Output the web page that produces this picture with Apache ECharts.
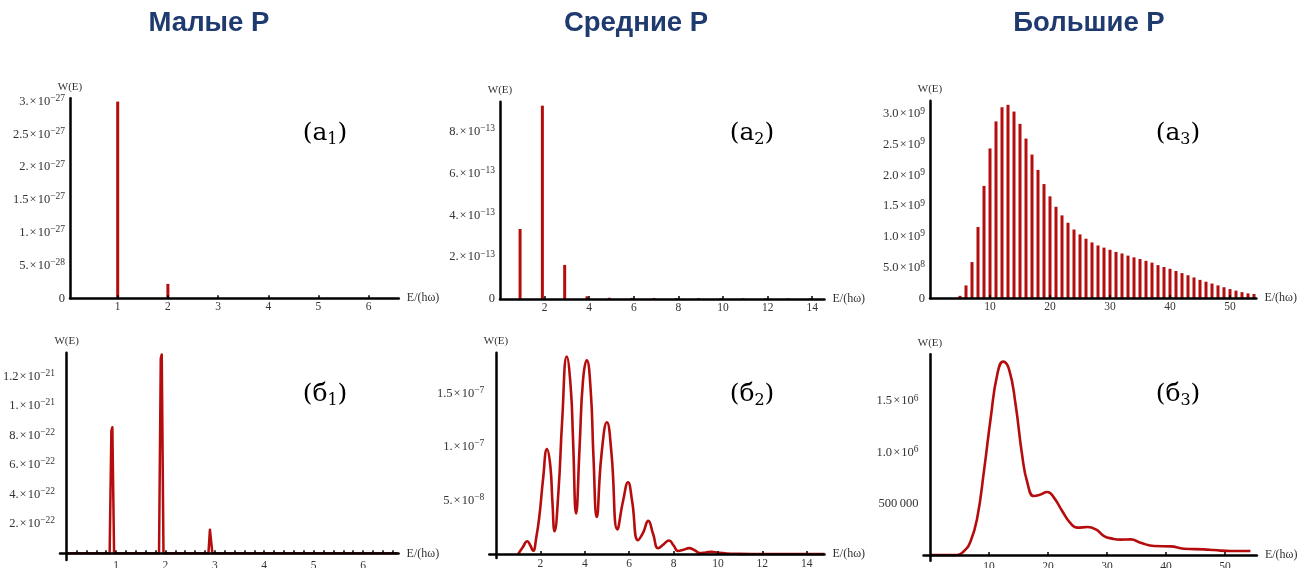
<!DOCTYPE html>
<html><head><meta charset="utf-8">
<script src="https://cdn.jsdelivr.net/npm/echarts@6/dist/echarts.min.js"></script>
<style>html,body{margin:0;padding:0;background:#fff}#c{width:1310px;height:568px}</style>
</head><body><div id="c"></div>
<script>
// ---------- DATA ----------
const titles = ['Малые P', 'Средние P', 'Большие P'];
const panelLabels = [['а', '1'], ['а', '2'], ['а', '3'], ['б', '1'], ['б', '2'], ['б', '3']];

// (a1) line spectrum, small P
const a1E = [1, 2];
const a1W = [3.0e-27, 2.2e-28];
const a1XTicks = [1, 2, 3, 4, 5, 6];
const a1YTicks = [0, 5e-28, 1e-27, 1.5e-27, 2e-27, 2.5e-27, 3e-27];
const a1YLabels = ['0', '5.×10^−28', '1.×10^−27', '1.5×10^−27', '2.×10^−27', '2.5×10^−27', '3.×10^−27'];

// (a2) line spectrum, medium P
const a2E = [0.9, 1.9, 2.9, 3.9, 4.9, 5.9, 6.9, 7.9, 8.9, 9.9, 10.9, 11.9, 12.9, 13.9];
const a2W = [3.35e-13, 9.25e-13, 1.63e-13, 0.13e-13, 0.06e-13, 0.05e-13, 0.05e-13, 0.04e-13, 0.04e-13, 0.04e-13, 0.03e-13, 0.03e-13, 0.03e-13, 0.03e-13];
const a2XTicks = [2, 4, 6, 8, 10, 12, 14];
const a2YTicks = [0, 2e-13, 4e-13, 6e-13, 8e-13];
const a2YLabels = ['0', '2.×10^−13', '4.×10^−13', '6.×10^−13', '8.×10^−13'];

// (a3) line spectrum, large P
const a3E = [5, 6, 7, 8, 9, 10, 11, 12, 13, 14, 15, 16, 17, 18, 19, 20, 21, 22, 23, 24, 25, 26, 27, 28, 29,
             30, 31, 32, 33, 34, 35, 36, 37, 38, 39, 40, 41, 42, 43, 44, 45, 46, 47, 48, 49, 50, 51, 52, 53, 54];
const a3W = [0.04e9, 0.21e9, 0.59e9, 1.16e9, 1.83e9, 2.44e9, 2.88e9, 3.11e9, 3.15e9, 3.04e9, 2.84e9, 2.60e9, 2.34e9,
             2.09e9, 1.86e9, 1.66e9, 1.49e9, 1.35e9, 1.23e9, 1.12e9, 1.04e9, 0.97e9, 0.91e9, 0.86e9, 0.825e9,
             0.79e9, 0.755e9, 0.73e9, 0.695e9, 0.667e9, 0.64e9, 0.61e9, 0.58e9, 0.54e9, 0.51e9, 0.48e9, 0.445e9,
             0.41e9, 0.375e9, 0.34e9, 0.30e9, 0.27e9, 0.24e9, 0.21e9, 0.18e9, 0.15e9, 0.125e9, 0.10e9, 0.08e9, 0.07e9];
const a3XTicks = [10, 20, 30, 40, 50];
const a3YTicks = [0, 5e8, 1e9, 1.5e9, 2e9, 2.5e9, 3e9];
const a3YLabels = ['0', '5.0×10^8', '1.0×10^9', '1.5×10^9', '2.0×10^9', '2.5×10^9', '3.0×10^9'];

// (б1) broadened spectrum, small P  [E, W]
const b1Curve = [[0, 0], [0.87, 0], [0.905, 8.3e-22], [0.925, 8.55e-22], [0.96, 0], [1.87, 0], [1.905, 1.32e-21],
                 [1.925, 1.348e-21], [1.96, 0], [2.87, 0], [2.9, 1.6e-22], [2.92, 1.66e-22], [2.95, 0],
                 [3.91, 0], [3.94, 6e-24], [3.97, 0], [6.7, 0]];
const b1XTicks = [1, 2, 3, 4, 5, 6];
const b1YTicks = [2e-22, 4e-22, 6e-22, 8e-22, 1e-21, 1.2e-21];
const b1YLabels = ['2.×10^−22', '4.×10^−22', '6.×10^−22', '8.×10^−22', '1.×10^−21', '1.2×10^−21'];

// (б2) broadened spectrum, medium P  [E, W]
const b2Curve = [[1.0, 0], [1.2, 0.6e-8], [1.41, 1.2e-8], [1.55, 0.8e-8], [1.67, 0.3e-8], [1.82, 1.6e-8],
                 [1.97, 3.8e-8], [2.12, 6.95e-8], [2.30, 9.8e-8], [2.45, 8.2e-8], [2.54, 5.0e-8], [2.64, 2.13e-8],
                 [2.82, 6.0e-8], [2.98, 12.35e-8], [3.19, 18.45e-8], [3.37, 15.5e-8], [3.47, 10.8e-8],
                 [3.61, 3.78e-8], [3.77, 10.1e-8], [3.92, 16.2e-8], [4.09, 18.1e-8], [4.27, 15.2e-8],
                 [4.39, 9.2e-8], [4.54, 3.46e-8], [4.75, 9.2e-8], [5.0, 12.3e-8], [5.2, 9.5e-8], [5.47, 2.3e-8],
                 [5.73, 5.0e-8], [5.95, 6.7e-8], [6.13, 5.0e-8], [6.4, 1.3e-8], [6.63, 2.0e-8], [6.86, 3.1e-8],
                 [7.08, 1.87e-8], [7.31, 0.54e-8], [7.55, 0.9e-8], [7.8, 1.27e-8], [8.0, 0.8e-8], [8.21, 0.29e-8],
                 [8.45, 0.4e-8], [8.7, 0.55e-8], [8.95, 0.35e-8], [9.19, 0.1e-8], [9.45, 0.15e-8], [9.71, 0.2e-8],
                 [10.0, 0.12e-8], [10.4, 0.05e-8], [10.8, 0.02e-8], [11.5, 0], [14.8, 0]];
const b2XTicks = [2, 4, 6, 8, 10, 12, 14];
const b2YTicks = [5e-8, 1e-7, 1.5e-7];
const b2YLabels = ['5.×10^−8', '1.×10^−7', '1.5×10^−7'];

// (б3) broadened spectrum, large P  [E, W]
const b3Curve = [[0, 0], [4.6, 0], [5.8, 40000], [6.9, 137000], [8.0, 360000], [9.15, 820000], [10.3, 1340000],
                 [11.4, 1760000], [12.4, 1885000], [13.4, 1810000], [14.5, 1470000], [15.6, 980000],
                 [16.5, 705000], [17.6, 575000], [18.5, 585000], [19.9, 614000], [21.0, 560000], [22.4, 430000],
                 [23.8, 310000], [25.0, 267000], [26.7, 273000], [28.1, 250000], [29.5, 185000], [30.9, 160000],
                 [32.3, 150000], [34.0, 153000], [35.7, 120000], [38.0, 88000], [40.8, 85000], [43.0, 62000],
                 [46.4, 55000], [48.1, 49000], [51.0, 39000], [54.3, 39000]];
const b3XTicks = [10, 20, 30, 40, 50];
const b3YTicks = [5e5, 1e6, 1.5e6];
const b3YLabels = ['500\u2009000', '1.0×10^6', '1.5×10^6'];

// ---------- STYLE / LAYOUT ----------
const RED = '#b50d0d';
const NAVY = '#1f3a6e';
const SERIF = 'Liberation Serif';
const TXT = '#333';

function sci(s) {
  const p = s.split('^');
  const m = p[0].replace('×', '\u200a×\u200a');
  return p.length > 1 ? '{m|' + m + '}{s|' + p[1] + '}' : '{m|' + m + '}';
}
const labRich = {
  m: {fontFamily: SERIF, fontSize: 12.5, color: TXT, lineHeight: 16},
  s: {fontFamily: SERIF, fontSize: 9.5, color: TXT, lineHeight: 9, verticalAlign: 'top'}
};

const panels = [
  {g: [70, 98.3, 328.8, 200], x: [0.05, 6.6], y: [0, 3.05e-27], xt: a1XTicks, yt: a1YTicks, yl: a1YLabels, lm: 3},
  {g: [500, 101.7, 324.5, 197.3], x: [0, 14.55], y: [0, 9.44e-13], xt: a2XTicks, yt: a2YTicks, yl: a2YLabels, lm: 3},
  {g: [930, 100.7, 326.4, 197.6], x: [0, 54.4], y: [0, 3.217e9], xt: a3XTicks, yt: a3YTicks, yl: a3YLabels, lm: 3},
  {g: [60, 352.7, 338.6, 207.3], x: [-0.135, 6.72], y: [-4.5e-23, 1.36e-21], xt: b1XTicks, yt: b1YTicks, yl: b1YLabels, minor: 0.2, lm: 0},
  {g: [489.3, 352.7, 335.2, 205.3], x: [-0.3, 14.8], y: [-3.7e-9, 1.88e-7], xt: b2XTicks, yt: b2YTicks, yl: b2YLabels, lm: 0},
  {g: [923.5, 354.3, 333.4, 206.4], x: [-1.1, 55.4], y: [-5.5e4, 1.956e6], xt: b3XTicks, yt: b3YTicks, yl: b3YLabels, lm: 0}
];

const grids = [], xAxes = [], yAxes = [];
panels.forEach((p, i) => {
  grids.push({left: p.g[0], top: p.g[1], width: p.g[2], height: p.g[3], outerBoundsMode: 'none', containLabel: false});
  let tickVals = p.xt;
  if (p.minor) {
    tickVals = [];
    for (let k = 1; k * p.minor <= p.x[1]; k++) tickVals.push(+(k * p.minor).toFixed(3));
  }
  xAxes.push({
    gridIndex: i, type: 'value', min: p.x[0], max: p.x[1], z: 3,
    name: 'E/(hω)', nameLocation: 'end', nameGap: 8,
    nameTextStyle: {fontFamily: SERIF, fontSize: 12, color: TXT},
    axisLine: {onZero: true, lineStyle: {color: '#000', width: 2.5}},
    axisTick: {show: true, inside: true, length: 3, customValues: tickVals, lineStyle: {color: '#000', width: 1.5}},
    axisLabel: {customValues: p.xt, fontFamily: SERIF, fontSize: 11.5, color: TXT, margin: p.lm},
    splitLine: {show: false}
  });
  yAxes.push({
    gridIndex: i, type: 'value', min: p.y[0], max: p.y[1], z: 3,
    name: 'W(E)', nameLocation: 'end', nameGap: 6,
    nameTextStyle: {fontFamily: SERIF, fontSize: 11, color: TXT, align: 'center'},
    axisLine: {onZero: true, lineStyle: {color: '#000', width: 2.5}},
    axisTick: {show: false},
    axisLabel: {
      customValues: p.yt, margin: 5, rich: labRich,
      formatter: (v) => {
        const span = p.y[1] - p.y[0];
        for (let k = 0; k < p.yt.length; k++) if (Math.abs(p.yt[k] - v) < span * 1e-6) return sci(p.yl[k]);
        return '';
      }
    },
    splitLine: {show: false}
  });
});

function pairs(E, W) { return E.map((e, k) => [e, W[k]]); }

const series = [
  {type: 'bar', xAxisIndex: 0, yAxisIndex: 0, data: pairs(a1E, a1W), barWidth: 3, itemStyle: {color: RED}, z: 1},
  {type: 'bar', xAxisIndex: 1, yAxisIndex: 1, data: pairs(a2E, a2W), barWidth: 3, itemStyle: {color: RED}, z: 1},
  {type: 'bar', xAxisIndex: 2, yAxisIndex: 2, data: pairs(a3E, a3W), barWidth: 3, itemStyle: {color: RED}, z: 1},
  {type: 'line', xAxisIndex: 3, yAxisIndex: 3, data: b1Curve, symbol: 'none', smooth: false,
   lineStyle: {color: RED, width: 2.5, join: 'round'}, z: 1},
  {type: 'line', xAxisIndex: 4, yAxisIndex: 4, data: b2Curve, symbol: 'none', smooth: 0.5,
   lineStyle: {color: RED, width: 2.6}, z: 1},
  {type: 'line', xAxisIndex: 5, yAxisIndex: 5, data: b3Curve, symbol: 'none', smooth: 0.5,
   lineStyle: {color: RED, width: 2.6}, z: 1}
];

const titleX = [204, 631, 1084];
const title = titles.map((t, i) => ({
  text: t, left: titleX[i], top: 4, textAlign: 'center',
  textStyle: {fontFamily: 'Liberation Sans', fontWeight: 'bold', fontSize: 27.5, color: NAVY}
}));

const labelPos = [[325, 133], [752, 133], [1178, 133], [325, 394], [752, 394], [1178, 394]];
const graphic = panelLabels.map((l, i) => ({
  type: 'text', x: labelPos[i][0], y: labelPos[i][1], z: 10,
  style: {
    text: '{m|(' + l[0] + '}{s|' + l[1] + '}{m|)}',
    align: 'center', verticalAlign: 'middle',
    rich: {
      m: {fontFamily: 'DejaVu Serif', fontSize: 25, color: NAVY, lineHeight: 30},
      s: {fontFamily: 'DejaVu Serif', fontSize: 16, color: NAVY, lineHeight: 14, verticalAlign: 'bottom'}
    }
  }
}));

const chart = echarts.init(document.getElementById('c'), null, {renderer: 'canvas'});
chart.setOption({
  animation: false, backgroundColor: '#fff',
  title, grid: grids, xAxis: xAxes, yAxis: yAxes, series, graphic
});
</script></body></html>
